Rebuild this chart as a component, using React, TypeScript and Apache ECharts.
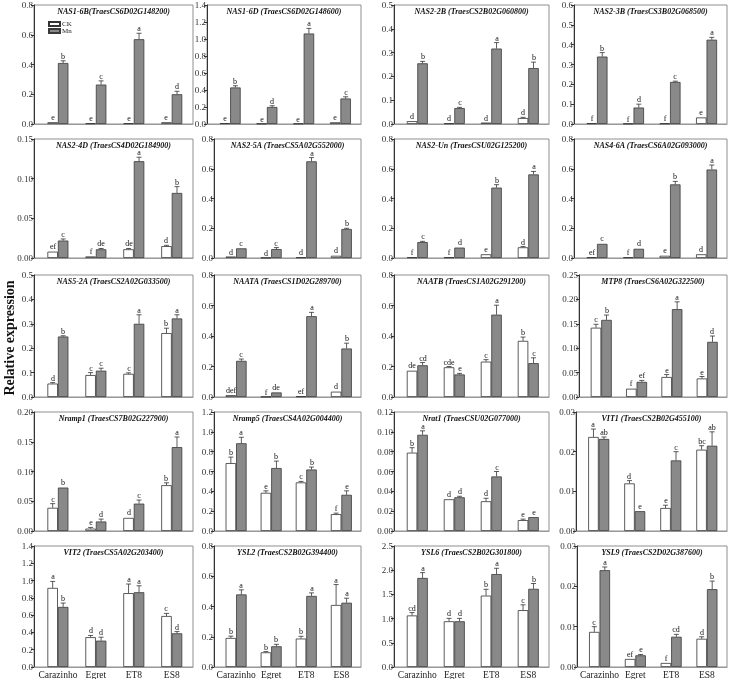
import { useEffect, useRef } from 'react';
import * as echarts from 'echarts';

// Cultivars on the x axis
const cultivars = ['Carazinho', 'Egret', 'ET8', 'ES8'];

// Gene panels, row by row
const genes = [
  'NAS1-6B(TraesCS6D02G148200)',
  'NAS1-6D (TraesCS6D02G148600)',
  'NAS2-2B (TraesCS2B02G060800)',
  'NAS2-3B (TraesCS3B02G068500)',
  'NAS2-4D (TraesCS4D02G184900)',
  'NAS2-5A (TraesCS5A02G552000)',
  'NAS2-Un (TraesCSU02G125200)',
  'NAS4-6A (TraesCS6A02G093000)',
  'NAS5-2A (TraesCS2A02G033500)',
  'NAATA (TraesCS1D02G289700)',
  'NAATB (TraesCS1A02G291200)',
  'MTP8 (TraesCS6A02G322500)',
  'Nramp1 (TraesCS7B02G227900)',
  'Nramp5 (TraesCS4A02G004400)',
  'Nrat1 (TraesCSU02G077000)',
  'VIT1 (TraesCS2B02G455100)',
  'VIT2 (TraesCS5A02G203400)',
  'YSL2 (TraesCS2B02G394400)',
  'YSL6 (TraesCS2B02G301800)',
  'YSL9 (TraesCS2D02G387600)',
];

// Y axis ranges and tick steps
const yMax = [0.8, 1.4, 0.5, 0.6, 0.15, 0.8, 0.8, 0.8, 0.5, 0.8, 0.8, 0.25, 0.2, 1.2, 0.12, 0.03, 1.4, 0.8, 2.5, 0.03];
const yStep = [0.2, 0.2, 0.1, 0.1, 0.05, 0.2, 0.2, 0.2, 0.1, 0.2, 0.2, 0.05, 0.05, 0.2, 0.02, 0.01, 0.2, 0.2, 0.5, 0.01];

// Control (CK) means and standard errors
const ckMean = [
  [0.012, 0.005, 0.005, 0.012],
  [0.01, 0.005, 0.005, 0.02],
  [0.012, 0.003, 0.006, 0.025],
  [0.004, 0.002, 0.003, 0.033],
  [0.008, 0.002, 0.011, 0.015],
  [0.01, 0.002, 0.005, 0.015],
  [0.005, 0.005, 0.025, 0.072],
  [0.005, 0.005, 0.015, 0.025],
  [0.055, 0.09, 0.095, 0.262],
  [0.012, 0.002, 0.005, 0.035],
  [0.172, 0.195, 0.232, 0.368],
  [0.142, 0.017, 0.041, 0.038],
  [0.039, 0.004, 0.022, 0.077],
  [0.685, 0.385, 0.49, 0.17],
  [0.079, 0.032, 0.03, 0.011],
  [0.0237, 0.012, 0.0058, 0.0205],
  [0.915, 0.345, 0.855, 0.59],
  [0.192, 0.097, 0.188, 0.41],
  [1.065, 0.945, 1.475, 1.175],
  [0.0087, 0.002, 0.001, 0.007],
];
const ckErr = [
  [0, 0, 0, 0],
  [0, 0, 0, 0],
  [0.002, 0, 0, 0.003],
  [0, 0, 0, 0.002],
  [0.0005, 0, 0.001, 0.001],
  [0, 0, 0, 0.002],
  [0, 0, 0.002, 0.005],
  [0, 0, 0.002, 0.002],
  [0.004, 0.01, 0.004, 0.02],
  [0.002, 0, 0, 0.002],
  [0.003, 0.005, 0.013, 0.025],
  [0.007, 0.001, 0.005, 0.004],
  [0.007, 0.002, 0.001, 0.004],
  [0.06, 0.02, 0.01, 0.01],
  [0.005, 0.0005, 0.003, 0.001],
  [0.002, 0.0007, 0.0007, 0.001],
  [0.075, 0.02, 0.105, 0.03],
  [0.012, 0.005, 0.015, 0.135],
  [0.06, 0.06, 0.13, 0.11],
  [0.0013, 0.0001, 0, 0.0005],
];

// Mn treatment means and standard errors
const mnMean = [
  [0.41, 0.265, 0.57, 0.2],
  [0.43, 0.2, 1.065, 0.3],
  [0.255, 0.067, 0.317, 0.235],
  [0.34, 0.083, 0.212, 0.425],
  [0.022, 0.011, 0.122, 0.082],
  [0.065, 0.06, 0.65, 0.195],
  [0.107, 0.07, 0.473, 0.562],
  [0.095, 0.062, 0.495, 0.595],
  [0.248, 0.108, 0.3, 0.322],
  [0.237, 0.03, 0.53, 0.318],
  [0.208, 0.148, 0.54, 0.222],
  [0.158, 0.031, 0.18, 0.113],
  [0.073, 0.016, 0.046, 0.141],
  [0.885, 0.635, 0.62, 0.365],
  [0.097, 0.034, 0.055, 0.014],
  [0.0232, 0.005, 0.0178, 0.0215],
  [0.695, 0.305, 0.865, 0.39],
  [0.48, 0.137, 0.47, 0.425],
  [1.84, 0.945, 1.92, 1.615],
  [0.024, 0.0029, 0.0075, 0.0193],
];
const mnErr = [
  [0.015, 0.025, 0.04, 0.02],
  [0.02, 0.015, 0.06, 0.02],
  [0.008, 0.003, 0.025, 0.025],
  [0.02, 0.017, 0.004, 0.012],
  [0.002, 0.001, 0.005, 0.008],
  [0.002, 0.01, 0.025, 0.005],
  [0.005, 0.004, 0.02, 0.02],
  [0.004, 0.003, 0.02, 0.03],
  [0.003, 0.01, 0.037, 0.015],
  [0.012, 0.003, 0.025, 0.035],
  [0.018, 0.007, 0.062, 0.035],
  [0.01, 0.003, 0.015, 0.012],
  [0.001, 0.004, 0.006, 0.017],
  [0.06, 0.07, 0.025, 0.04],
  [0.004, 0.001, 0.005, 0.0005],
  [0.0005, 0.0001, 0.0022, 0.0035],
  [0.045, 0.04, 0.075, 0.02],
  [0.03, 0.013, 0.02, 0.03],
  [0.11, 0.06, 0.12, 0.11],
  [0.0008, 0.0002, 0.0006, 0.002],
];

// Significance letters
const ckLetters = [
  ['e', 'e', 'e', 'e'],
  ['e', 'e', 'e', 'e'],
  ['d', 'd', 'd', 'd'],
  ['f', 'f', 'f', 'e'],
  ['ef', 'f', 'de', 'd'],
  ['d', 'd', 'd', 'd'],
  ['f', 'f', 'e', 'd'],
  ['ef', 'f', 'e', 'd'],
  ['d', 'c', 'c', 'b'],
  ['def', 'f', 'ef', 'd'],
  ['de', 'cde', 'c', 'b'],
  ['c', 'f', 'e', 'e'],
  ['c', 'e', 'd', 'b'],
  ['b', 'e', 'c', 'f'],
  ['b', 'd', 'd', 'e'],
  ['a', 'd', 'e', 'bc'],
  ['a', 'd', 'a', 'c'],
  ['b', 'b', 'b', 'a'],
  ['cd', 'd', 'b', 'c'],
  ['c', 'ef', 'f', 'd'],
];
const mnLetters = [
  ['b', 'c', 'a', 'd'],
  ['b', 'd', 'a', 'c'],
  ['b', 'c', 'a', 'b'],
  ['b', 'd', 'c', 'a'],
  ['c', 'de', 'a', 'b'],
  ['c', 'c', 'a', 'b'],
  ['c', 'd', 'b', 'a'],
  ['c', 'd', 'b', 'a'],
  ['b', 'c', 'a', 'a'],
  ['c', 'de', 'a', 'b'],
  ['cd', 'e', 'a', 'c'],
  ['b', 'ef', 'a', 'd'],
  ['b', 'd', 'c', 'a'],
  ['a', 'b', 'b', 'e'],
  ['a', 'd', 'c', 'e'],
  ['ab', 'e', 'c', 'ab'],
  ['b', 'd', 'a', 'd'],
  ['a', 'b', 'a', 'a'],
  ['a', 'd', 'a', 'b'],
  ['a', 'e', 'cd', 'b'],
];

// Panel frame layout (pixels)
const rowTop = [5, 139, 275, 412, 546];
const rowBottom = [124, 258, 397, 531, 667];
const colRight = [193, 361, 549, 727];
const panelLeft = [
  34, 207, 394, 574,
  34, 214, 394, 574,
  34, 214, 394, 579,
  34, 214, 394, 576,
  34, 214, 394, 577,
];

const SERIF = "'Liberation Serif', 'Times New Roman', serif";
const BAR_W = 10.5;
const X_MIN = -0.63;
const X_MAX = 3.56;

function errorSeries(p: number, group: 'CK' | 'Mn', means: number[], errs: number[], letters: string[]) {
  const offset = group === 'CK' ? -BAR_W / 2 : BAR_W / 2;
  return {
    type: 'custom',
    xAxisIndex: p,
    yAxisIndex: p,
    clip: false,
    silent: true,
    z: 5,
    encode: { x: 0, y: 1 },
    data: means.map((v, i) => [i, v, errs[i]]),
    renderItem: (params: any, api: any) => {
      const i = params.dataIndex;
      const x = api.value(0);
      const v = api.value(1);
      const e = api.value(2);
      const base = api.coord([x, v]);
      const top = api.coord([x, v + e]);
      const cx = base[0] + offset;
      const children: any[] = [];
      if (e > 0 && base[1] - top[1] > 0.6) {
        const ls = { stroke: '#333', lineWidth: 0.8, fill: null };
        children.push({ type: 'line', shape: { x1: cx, y1: base[1], x2: cx, y2: top[1] }, style: ls });
        children.push({ type: 'line', shape: { x1: cx - 2.5, y1: top[1], x2: cx + 2.5, y2: top[1] }, style: ls });
      }
      children.push({
        type: 'text',
        x: Math.round(cx),
        y: Math.round(top[1] - 1),
        style: {
          legacy: false,
          text: letters[i],
          align: 'center',
          verticalAlign: 'bottom',
          fontSize: 8,
          lineHeight: 7,
          fontFamily: SERIF,
          fill: '#111111',
        },
      });
      return { type: 'group', children };
    },
  };
}

function buildOption() {
  const grid: any[] = [];
  const xAxis: any[] = [];
  const yAxis: any[] = [];
  const series: any[] = [];
  const graphic: any[] = [];

  genes.forEach((name, p) => {
    const row = Math.floor(p / 4);
    const col = p % 4;
    const left = panelLeft[p];
    const right = colRight[col];
    const top = rowTop[row];
    const bottom = rowBottom[row];
    const decimals = yStep[p] >= 0.1 ? 1 : 2;

    grid.push({
      left,
      top,
      width: right - left,
      height: bottom - top,
      show: true,
      borderColor: '#8f8f8f',
      borderWidth: 1,
      outerBoundsMode: 'none',
    });

    xAxis.push({
      type: 'value',
      gridIndex: p,
      min: X_MIN,
      max: X_MAX,
      axisLine: { show: true, onZero: false, lineStyle: { color: '#9a9a9a', width: 1 } },
      axisTick: { show: false },
      splitLine: { show: false },
      axisLabel: {
        show: row === 4,
        customValues: [0, 1, 2, 3],
        formatter: (v: number) => cultivars[Math.round(v)] ?? '',
        fontSize: 9.5,
        fontFamily: SERIF,
        color: '#222',
        margin: 3,
      },
    });

    yAxis.push({
      type: 'value',
      gridIndex: p,
      min: 0,
      max: yMax[p],
      interval: yStep[p],
      axisLine: { show: true, onZero: false, lineStyle: { color: '#333', width: 1 } },
      axisTick: { show: true, length: 3, lineStyle: { color: '#333', width: 1 } },
      splitLine: { show: false },
      axisLabel: {
        fontSize: 9,
        fontFamily: SERIF,
        color: '#333',
        margin: 1,
        formatter: (v: number) => v.toFixed(decimals),
      },
    });

    series.push({
      name: 'CK',
      type: 'bar',
      xAxisIndex: p,
      yAxisIndex: p,
      barWidth: BAR_W,
      barGap: '0%',
      itemStyle: { color: '#ffffff', borderColor: '#333', borderWidth: 0.8 },
      data: ckMean[p].map((v, i) => [i, v]),
    });
    series.push({
      name: 'Mn',
      type: 'bar',
      xAxisIndex: p,
      yAxisIndex: p,
      barWidth: BAR_W,
      barGap: '0%',
      itemStyle: { color: '#898989', borderColor: '#3a3a3a', borderWidth: 0.8 },
      data: mnMean[p].map((v, i) => [i, v]),
    });
    series.push(errorSeries(p, 'CK', ckMean[p], ckErr[p], ckLetters[p]));
    series.push(errorSeries(p, 'Mn', mnMean[p], mnErr[p], mnLetters[p]));

    graphic.push({
      type: 'text',
      x: (left + right) / 2,
      y: top + 6,
      z: 10,
      style: {
        text: name,
        align: 'center',
        verticalAlign: 'middle',
        fontSize: 8,
        lineHeight: 8,
        fontStyle: 'italic',
        fontWeight: 'bold',
        fontFamily: SERIF,
        fill: '#111',
      },
    });
  });

  graphic.push({
    type: 'text',
    x: 9,
    y: 338,
    rotation: Math.PI / 2,
    style: {
      text: 'Relative expression',
      align: 'center',
      verticalAlign: 'middle',
      fontSize: 14,
      fontWeight: 'bold',
      fontFamily: SERIF,
      fill: '#111',
    },
  });

  return {
    animation: false,
    backgroundColor: '#ffffff',
    legend: {
      data: ['CK', 'Mn'],
      orient: 'vertical',
      left: 48,
      top: 20.5,
      padding: 0,
      icon: 'rect',
      itemWidth: 11,
      itemHeight: 4,
      itemGap: 0,
      selectedMode: false,
      textStyle: { fontSize: 7, fontFamily: SERIF, color: '#222', padding: [0, 0, 0, -3] },
    },
    grid,
    xAxis,
    yAxis,
    series,
    graphic,
  };
}

export default function App() {
  const ref = useRef<HTMLDivElement>(null);
  useEffect(() => {
    document.body.style.margin = '0';
    if (!ref.current) return;
    const chart = echarts.init(ref.current, null, { renderer: 'svg' });
    chart.setOption(buildOption() as any);
    return () => chart.dispose();
  }, []);
  return <div ref={ref} style={{ width: 734, height: 679, willChange: 'transform' }} />;
}
